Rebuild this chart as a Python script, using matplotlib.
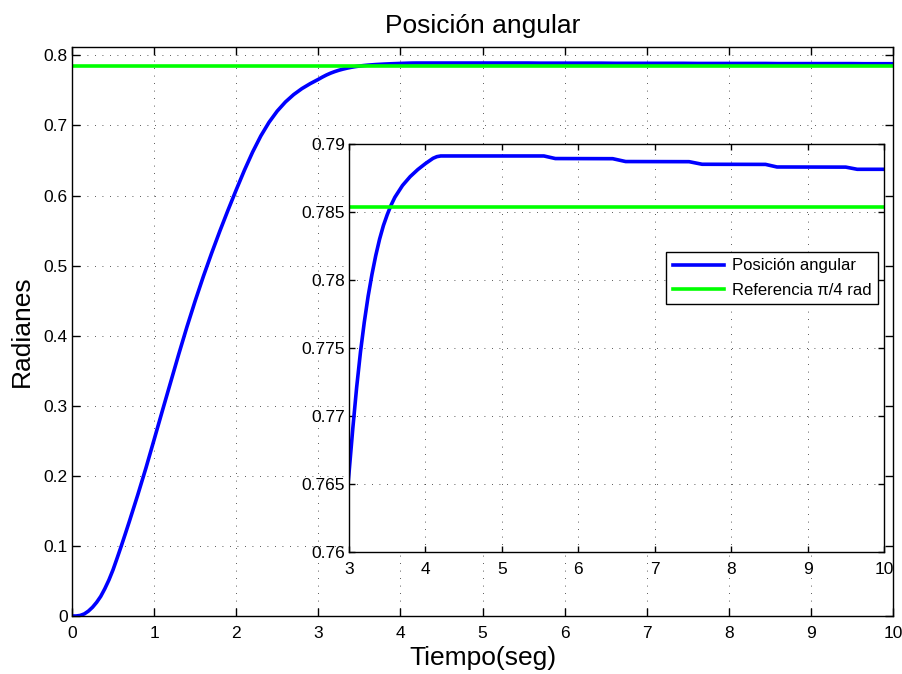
import matplotlib
matplotlib.use("Agg")
import matplotlib.pyplot as plt

plt.rcParams["font.family"] = ["Liberation Sans", "DejaVu Sans"]

# step response (seconds, radians)
tiempo = [0.0, 0.05, 0.1, 0.15, 0.2, 0.25, 0.3, 0.35, 0.4, 0.45,
          0.5, 0.55, 0.6, 0.65, 0.7, 0.8, 0.9, 1.0, 1.1, 1.2,
          1.3, 1.4, 1.5, 1.6, 1.7, 1.8, 1.9, 2.0, 2.1, 2.2,
          2.3, 2.4, 2.5, 2.6, 2.7, 2.8, 2.9, 3.0, 3.05, 3.1,
          3.15, 3.2, 3.25, 3.3, 3.35, 3.4, 3.45, 3.5, 3.55, 3.6,
          3.7, 3.8, 3.9, 4.0, 4.1, 4.15, 4.2,
          5.55, 5.7, 6.45, 6.62, 7.45, 7.62, 8.45, 8.6, 9.5, 9.65, 10.0]
posicion = [0.0, 0.0, 0.0008, 0.003, 0.007, 0.0125, 0.0195, 0.028, 0.039, 0.0515,
            0.066, 0.0827, 0.0998, 0.1175, 0.1355, 0.1725, 0.211, 0.2516, 0.2926, 0.3331,
            0.3736, 0.4126, 0.4496, 0.4846, 0.5176, 0.5491, 0.5791, 0.6081, 0.6361, 0.6621,
            0.6851, 0.7046, 0.7206, 0.7336, 0.7441, 0.7526, 0.7596, 0.7658, 0.7691, 0.7721,
            0.7747, 0.7769, 0.7788, 0.7804, 0.7818, 0.7830, 0.7840, 0.7848, 0.7855, 0.78608,
            0.78695, 0.78760, 0.78812, 0.78856, 0.78895, 0.78907, 0.78912,
            0.78912, 0.78893, 0.78892, 0.78871, 0.78870, 0.78851, 0.78850, 0.78831, 0.78830,
            0.78814, 0.78814]
referencia = 0.7853981633974483  # pi/4

main_xticks = list(range(0, 11))
main_yticks = [0, 0.1, 0.2, 0.3, 0.4, 0.5, 0.6, 0.7, 0.8]
main_yticklabels = ["0", "0.1", "0.2", "0.3", "0.4", "0.5", "0.6", "0.7", "0.8"]
zoom_xticks = list(range(3, 11))
zoom_yticks = [0.76, 0.765, 0.77, 0.775, 0.78, 0.785, 0.79]
zoom_yticklabels = ["0.76", "0.765", "0.77", "0.775", "0.78", "0.785", "0.79"]

BLUE = "#0000ff"
GREEN = "#00ff00"
GRID = dict(color="#222222", linestyle=(0, (1, 8)), linewidth=0.6)


def style_axes(ax, ticklen):
    for s in ax.spines.values():
        s.set_linewidth(1.0)
    ax.tick_params(direction="in", top=True, right=True, length=ticklen,
                   width=1.0, labelsize=12.5)
    ax.tick_params(axis="x", pad=7)
    ax.tick_params(axis="y", pad=3)
    ax.grid(True, **GRID)


fig = plt.figure(figsize=(9.03, 6.74), dpi=100)

ax = fig.add_axes([72 / 903, 58 / 674, 821 / 903, 569 / 674])
ax.plot(tiempo, posicion, color=BLUE, linewidth=2.6)
ax.axhline(referencia, color=GREEN, linewidth=2.6)
ax.set_xlim(0, 10)
ax.set_ylim(0, 0.812)
ax.set_xticks(main_xticks)
ax.set_yticks(main_yticks)
ax.set_yticklabels(main_yticklabels)
style_axes(ax, 6)
ax.set_xlabel("Tiempo(seg)", fontsize=19, labelpad=4)
ax.set_ylabel("Radianes", fontsize=19, labelpad=7)
ax.set_title("Posición angular", fontsize=19, pad=10)

ins = fig.add_axes([349 / 903, 122 / 674, 535 / 903, 408 / 674])
ins.set_facecolor("white")
ins.plot(tiempo, posicion, color=BLUE, linewidth=2.6, label="Posición angular")
ins.axhline(referencia, color=GREEN, linewidth=2.6, label="Referencia π/4 rad")
ins.set_xlim(3, 10)
ins.set_ylim(0.76, 0.79)
ins.set_xticks(zoom_xticks)
ins.set_yticks(zoom_yticks)
ins.set_yticklabels(zoom_yticklabels)
style_axes(ins, 4.5)

leg = ins.legend(loc="upper right", bbox_to_anchor=(0.989, 0.736),
                 borderaxespad=0, fontsize=12, fancybox=False,
                 edgecolor="black", framealpha=1, handlelength=3.1,
                 borderpad=0.4, labelspacing=0.55, handletextpad=0.45)
leg.get_frame().set_linewidth(1.0)

fig.savefig("out.png", dpi=100)
